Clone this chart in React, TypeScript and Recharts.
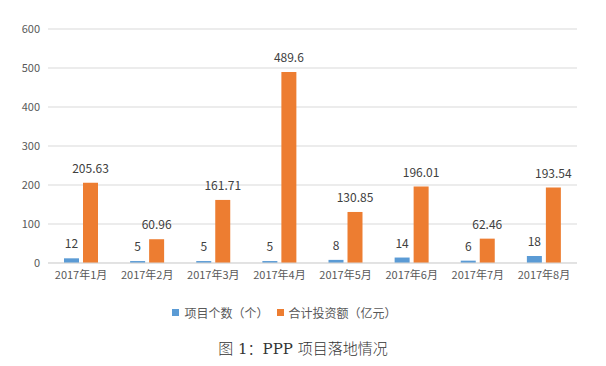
import React from 'react'
import { BarChart, Bar, XAxis, YAxis, CartesianGrid, Legend, LabelList } from 'recharts'

const months = ['2017年1月', '2017年2月', '2017年3月', '2017年4月', '2017年5月', '2017年6月', '2017年7月', '2017年8月']
const projectCounts = [12, 5, 5, 5, 8, 14, 6, 18]
const investments = [205.63, 60.96, 161.71, 489.6, 130.85, 196.01, 62.46, 193.54]
const yTicks = [0, 100, 200, 300, 400, 500, 600]

const data = months.map((m, i) => ({ month: m, count: projectCounts[i], amount: investments[i] }))

const BLUE = '#5B9BD5'
const ORANGE = '#ED7D31'
const FONT = "'Noto Sans CJK SC', 'Noto Sans', sans-serif"

function LegendBox() {
  const items = [
    { label: '项目个数（个）', color: BLUE },
    { label: '合计投资额（亿元）', color: ORANGE },
  ]
  return (
    <div style={{ display: 'flex', justifyContent: 'center', alignItems: 'center', height: 18, fontSize: 12, color: '#595959', fontFamily: FONT }}>
      {items.map((it) => (
        <span key={it.label} style={{ display: 'flex', alignItems: 'center', marginRight: 8 }}>
          <span style={{ width: 7, height: 7, background: it.color, display: 'inline-block', marginRight: 5 }} />
          {it.label}
        </span>
      ))}
    </div>
  )
}

export default function App() {
  return (
    <div style={{ position: 'absolute', left: 0, top: 0, width: 606, height: 366, background: '#fff' }}>
      <BarChart
        width={606}
        height={330}
        data={data}
        margin={{ top: 29, right: 29, bottom: 9, left: 0 }}
        barSize={15}
        barGap={4}
      >
        <CartesianGrid vertical={false} stroke="#D9D9D9" />
        <XAxis
          dataKey="month"
          height={40}
          tickLine={false}
          axisLine={{ stroke: '#D9D9D9' }}
          tick={{ fontSize: 11, fill: '#595959', fontFamily: FONT }}
          interval={0}
        />
        <YAxis
          width={48}
          domain={[0, 600]}
          ticks={yTicks}
          tickLine={false}
          axisLine={false}
          tick={{ fontSize: 11, fill: '#595959', fontFamily: FONT }}
        />
        <Legend verticalAlign="bottom" content={() => <LegendBox />} />
        <Bar dataKey="count" fill={BLUE} isAnimationActive={false}>
          <LabelList dataKey="count" position="top" offset={10} style={{ fontSize: 12, fill: '#404040', fontFamily: FONT }} />
        </Bar>
        <Bar dataKey="amount" fill={ORANGE} isAnimationActive={false}>
          <LabelList dataKey="amount" position="top" offset={10} style={{ fontSize: 12, fill: '#404040', fontFamily: FONT }} />
        </Bar>
      </BarChart>
      <div style={{ position: 'absolute', top: 337, left: 0, width: 606, textAlign: 'center', fontSize: 15, color: '#333', fontFamily: "'DejaVu Serif', 'Noto Sans CJK SC', serif", fontWeight: 300 }}>
        图 1：PPP 项目落地情况
      </div>
    </div>
  )
}
